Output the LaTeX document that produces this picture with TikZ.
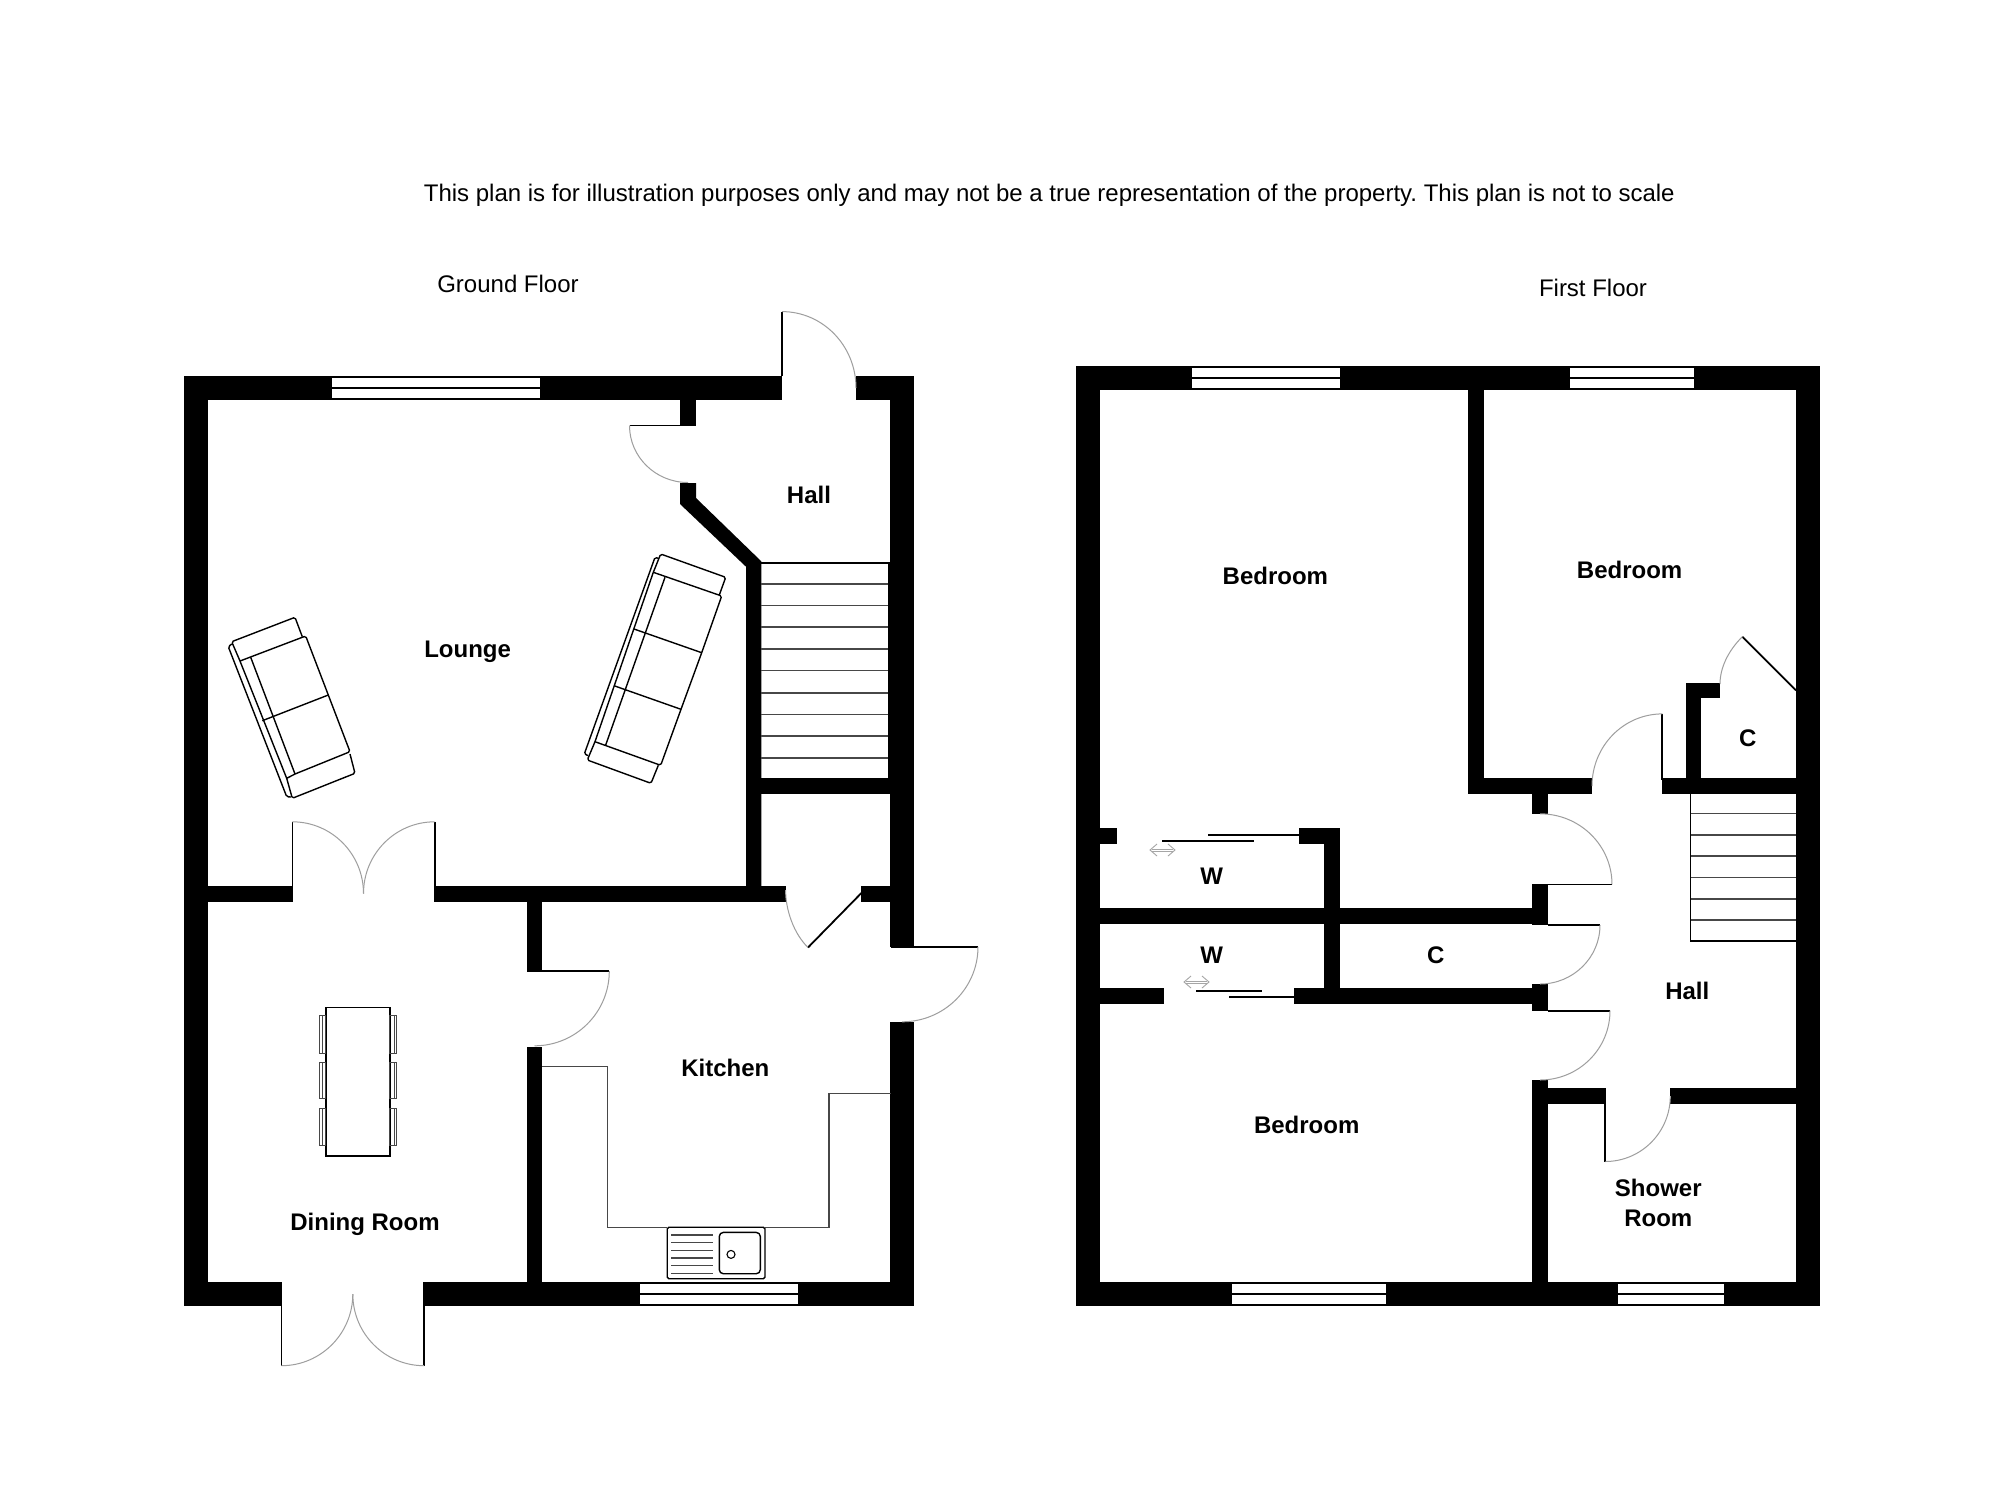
\documentclass[tikz,border=0pt]{standalone}
\usepackage{fontspec}
\setmainfont{Liberation Sans}
\frenchspacing
\tikzset{
  wallfill/.style={fill=black,draw=none},
  glass/.style={fill=white,draw=none},
  swing/.style={draw=black!38,line width=0.5pt},
  leaf/.style={draw=black,line width=0.9pt},
  fine/.style={draw=black!72,line width=0.65pt},
  furn/.style={draw=black,line width=0.7pt,line join=round,rounded corners=0.8pt},
  roomlabel/.style={font=\bfseries\fontsize{12}{14.6}\selectfont,align=center,inner sep=0pt,text=black},
  caption/.style={font=\fontsize{12}{14}\selectfont,inner sep=0pt,text=black},
  slidearrow/.style={draw=black!35,line width=0.45pt}
}
\newcommand{\wb}[4]{\fill[wallfill] (#1,#2) rectangle (#3,#4);}
\newcommand{\gl}[4]{\fill[glass] (#1,#2) rectangle (#3,#4);}
\newcommand{\dswing}[6]{\draw[swing] ({#1+(#3)},{#2+(#4)}) .. controls ({#1+(#3)+.5523*(#5)},{#2+(#4)+.5523*(#6)}) and ({#1+(#5)+.5523*(#3)},{#2+(#6)+.5523*(#4)}) .. ({#1+(#5)},{#2+(#6)});}
\newcommand{\sarrow}[2]{%
  \draw[slidearrow] ({#1+7},{#2-6}) -- (#1,#2) -- ({#1+7},{#2+6});
  \draw[slidearrow] ({#1+18},{#2-6}) -- ({#1+25},#2) -- ({#1+18},{#2+6});
  \draw[slidearrow] ({#1+2},{#2-1}) -- ({#1+23},{#2-1});
  \draw[slidearrow] ({#1+2},{#2+1}) -- ({#1+23},{#2+1});}
\begin{document}
\begin{tikzpicture}[x=0.5pt,y=-0.5pt]
\useasboundingbox (0,0) rectangle (2004,1490);
\fill[white] (0,0) rectangle (2004,1490);

% ---- captions
\node[caption] (note) at (1049.3,195.5) {This plan is for illustration purposes only and may not be a true representation of the property. This plan is not to scale};
\node[caption] (gf) at (508,284) {Ground Floor};
\node[caption] (ff) at (1593,287.5) {First Floor};

% ---- GROUND FLOOR walls
\wb{184}{376}{208}{1306}
\wb{184}{376}{782}{400}
\wb{856}{376}{914}{400}
\wb{890}{376}{914}{947}
\wb{890}{1022}{914}{1306}
\wb{184}{1282}{281}{1306}
\wb{424}{1282}{914}{1306}
\wb{208}{886}{292}{902}
\wb{435}{886}{786}{902}
\wb{861.4}{886}{890}{902}
\wb{680}{399}{696}{426}
\fill[wallfill] (680,483) -- (696,483) -- (696,498) -- (761.4,561.4) -- (761.4,890) -- (746,890) -- (746,566.7) -- (680,504) -- cycle;
\wb{761}{778}{890}{794}
\wb{888}{562}{890}{778}
\wb{527}{901}{542}{971.2}
\wb{527}{1046.5}{542}{1282}

% ground windows
\gl{332}{378}{540}{387}
\gl{332}{389}{540}{398}
\gl{640.2}{1284}{798}{1293}
\gl{640.2}{1295.3}{798}{1304}

% ground stairs
\draw[leaf] (761.4,562.6) -- (890,562.6);
\foreach \sy in {583.9,605.5,627,649,670.8,692.9,714.5,736,758}{\draw[fine] (761.4,\sy) -- (888,\sy);}

% ground doors
\draw[leaf] (782,311.6) -- (782,376);
\dswing{782}{388}{0}{-76.4}{74}{0}
\draw[leaf] (629.5,425.5) -- (680,425.5);
\dswing{688}{425.5}{-58.5}{0}{0}{57}
\draw[leaf] (292.4,821.8) -- (292.4,902);
\draw[leaf] (434.6,821.8) -- (434.6,902);
\dswing{292.4}{893.5}{0}{-71.7}{71.1}{0}
\dswing{434.6}{893.5}{0}{-71.7}{-71.1}{0}
\draw[leaf] (861.4,893) -- (808,947.5);
\draw[swing] (785.6,890) .. controls (785.6,910) and (793.7,933.5) .. (808,947.5);
\draw[leaf] (527,971) -- (609.3,971);
\dswing{534.5}{971}{74.8}{0}{0}{74.8}
\draw[leaf] (890.7,946.8) -- (978,946.8);
\dswing{902}{946.8}{76}{0}{0}{75}
\draw[leaf] (281.4,1282) -- (281.4,1365.7);
\draw[leaf] (424.2,1282) -- (424.2,1365.7);
\dswing{281.4}{1294}{0}{71.7}{71.4}{0}
\dswing{424.2}{1294}{0}{71.7}{-71.4}{0}

% worktops
\draw[fine] (542,1066.5) -- (607.8,1066.5) -- (607.8,1227.6) -- (667.4,1227.6);
\draw[fine] (765.2,1227.6) -- (829,1227.6) -- (829,1093.2) -- (890.7,1093.2);
% sink
\draw[furn] (667.2,1227.2) rectangle (765,1278.7);
\draw[furn,rounded corners=2pt] (719.3,1232.4) rectangle (760.3,1273.7);
\draw[furn,line width=0.55pt] (731,1254.4) circle [radius=4];
\foreach \dy in {1235.1,1242.7,1250.4,1258.1,1265.7,1273.4}{\draw[fine] (671.3,\dy) -- (713.3,\dy);}

% table and chairs
\draw[draw=black,line width=0.8pt] (325.9,1007.4) rectangle (389.7,1155.7);
\foreach \cy/\cz in {1015.7/1053.4,1062/1098.9,1108.3/1145.2}{
  \draw[fine,line width=0.45pt] (319.6,\cy) rectangle (325.9,\cz);
  \draw[fine,line width=0.45pt] (322,\cy) -- (322,\cz);
  \draw[fine,line width=0.45pt] (389.7,\cy) rectangle (396.5,\cz);
  \draw[fine,line width=0.45pt] (394,\cy) -- (394,\cz);
}

% sofa left
\draw[furn] (240,661) -- (231.7,641.7) -- (295,617.3) -- (302.3,636.7);
\draw[furn] (240,661) -- (305.7,636) -- (328.3,695) -- (350,751.7) -- (295,774);
\draw[furn] (262.3,720.7) -- (328.3,695);
\draw[furn] (250.7,657.3) -- (295,774);
\draw[furn] (240,661) -- (286.7,778.3) -- (292.3,798.3) -- (355,773.3) -- (350,754);
\draw[furn] (286.7,778.3) -- (295,774);
\draw[furn] (231.7,644) -- (228.3,646.7) -- (286.7,796.7) -- (291,797);

% sofa right
\draw[furn] (653.3,572.3) -- (660.7,554) -- (725.7,577.3) -- (719.3,595);
\draw[furn] (653.3,572.3) -- (721.7,596) -- (701.7,652.7) -- (681,709.3) -- (660.7,765.3) -- (595,741.7);
\draw[furn] (634,629) -- (701.7,652.7);
\draw[furn] (614,685.7) -- (681,709.3);
\draw[furn] (665,577.3) -- (605.7,745);
\draw[furn] (653.3,572.3) -- (595,741.7) -- (587.3,760) -- (651,783.3) -- (658.3,765.3);
\draw[furn] (658.3,558.3) -- (655,557.3) -- (584.3,754) -- (588,755.5);

% ground labels
\node[roomlabel] (lounge) at (467.6,652) {Lounge};
\node[roomlabel] (hallg) at (809,495) {Hall};
\node[roomlabel] (kitchen) at (725.4,1068) {Kitchen};
\node[roomlabel] (dining) at (365,1224.5) {Dining Room};

% ---- FIRST FLOOR walls
\wb{1076}{366}{1100}{1306}
\wb{1076}{366}{1820}{390}
\wb{1796}{366}{1820}{1306}
\wb{1076}{1282}{1820}{1306}
\wb{1468}{366}{1484}{794}
\wb{1468}{778}{1592}{794}
\wb{1662.3}{778}{1796}{794}
\wb{1685.7}{682.6}{1701.3}{790}
\wb{1685.7}{682.6}{1720}{698.3}
\wb{1100}{828}{1117}{844}
\wb{1299}{828}{1340}{844}
\wb{1324}{828}{1340}{1004}
\wb{1100}{908}{1532}{924}
\wb{1100}{988}{1164}{1004}
\wb{1294}{988}{1532}{1004}
\wb{1532}{794}{1548}{813.5}
\wb{1532}{884}{1548}{925.4}
\wb{1532}{984}{1548}{1011.4}
\wb{1532}{1080}{1548}{1282}
\wb{1548}{1088}{1606}{1104}
\wb{1670.3}{1088}{1796}{1104}

% first windows
\gl{1191.8}{368}{1340}{377}
\gl{1191.8}{379}{1340}{388}
\gl{1570}{368}{1694.3}{377}
\gl{1570}{379}{1694.3}{388}
\gl{1232}{1284}{1386}{1293}
\gl{1232}{1295}{1386}{1304}
\gl{1618}{1284}{1724}{1293}
\gl{1618}{1295}{1724}{1304}

% first stairs
\draw[fine,draw=black] (1690.7,793.8) -- (1690.7,941) -- (1796,941);
\foreach \sy in {813.5,835,856,877.3,899,920}{\draw[fine] (1690.7,\sy) -- (1796,\sy);}

% first doors
\draw[leaf] (1662.3,713.9) -- (1662.3,780);
\dswing{1662.3}{786}{0}{-72.1}{-70.3}{0}
\draw[leaf] (1742.3,636.7) -- (1796,690.4);
\draw[swing] (1720,684) .. controls (1720,668) and (1728,651) .. (1742.3,636.7);
\draw[leaf] (1548,884.4) -- (1612,884.4);
\dswing{1540}{884.4}{0}{-70.6}{72}{0}
\draw[leaf] (1548,925) -- (1600,925);
\dswing{1540}{925}{60}{0}{0}{59}
\draw[leaf] (1548,1010.7) -- (1610,1010.7);
\dswing{1540}{1010.7}{70}{0}{0}{69.3}
\draw[leaf] (1605.3,1103) -- (1605.3,1161.5);
\dswing{1605.3}{1096}{0}{65.5}{65}{0}

% sliding wardrobe doors
\draw[leaf,line width=1pt] (1208,835) -- (1299,835);
\draw[leaf,line width=1pt] (1162.3,841) -- (1253.7,841);
\draw[leaf,line width=1pt] (1229,996.8) -- (1294,996.8);
\draw[leaf,line width=1pt] (1196.3,991) -- (1261.7,991);
\sarrow{1150}{850}
\sarrow{1184}{982}

% first labels
\node[roomlabel] (bed1) at (1275.4,576) {Bedroom};
\node[roomlabel] (bed2) at (1629.6,570) {Bedroom};
\node[roomlabel] (bed3) at (1306.7,1124.5) {Bedroom};
\node[roomlabel] (c1) at (1747.7,738) {C};
\node[roomlabel] (c2) at (1435.7,955.4) {C};
\node[roomlabel] (w1) at (1211.7,876.5) {W};
\node[roomlabel] (w2) at (1211.7,955.4) {W};
\node[roomlabel] (hallf) at (1687.3,991) {Hall};
\node[roomlabel] (shower) at (1658.3,1203) {Shower\\Room};
\end{tikzpicture}
\end{document}
